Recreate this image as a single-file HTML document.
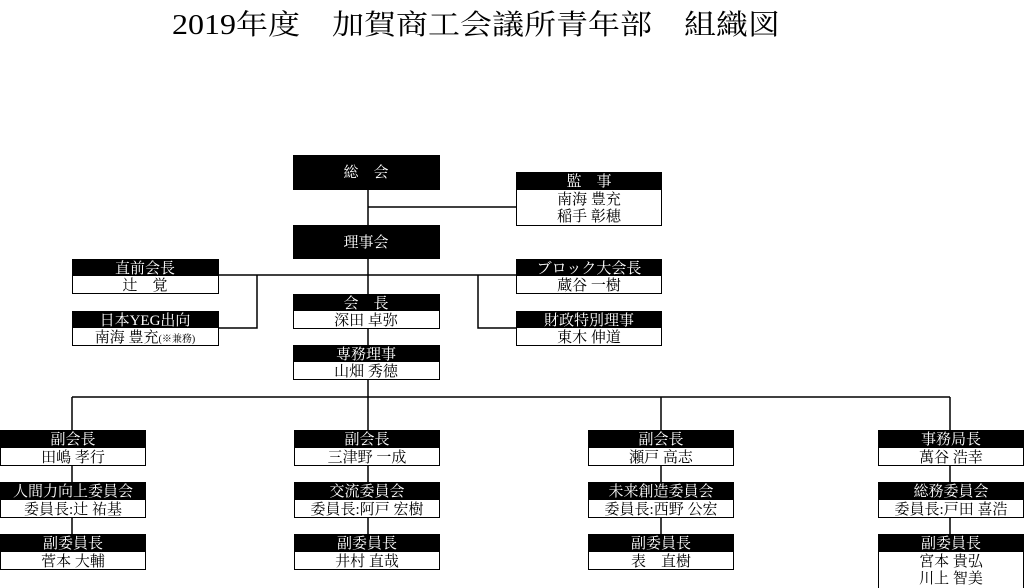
<!DOCTYPE html>
<html><head><meta charset="utf-8"><style>
html,body{margin:0;padding:0;background:#fff;}
svg{display:block;}
text{font-family:"Liberation Serif","Noto Serif CJK SC","Noto Sans CJK JP",serif;}
</style></head><body>
<svg width="1024" height="588" viewBox="0 0 1024 588" xmlns="http://www.w3.org/2000/svg">
<text x="172" y="34" font-size="28" textLength="608" lengthAdjust="spacingAndGlyphs" fill="#000" style="white-space:pre">2019年度&#x2002;&#x2002;加賀商工会議所青年部&#x2002;&#x2002;組織図</text>
<g stroke="#000" stroke-width="1.5" fill="none">
<line x1="368" y1="190" x2="368" y2="397"/>
<line x1="368" y1="207" x2="516" y2="207"/>
<line x1="219" y1="275" x2="516" y2="275"/>
<polyline points="257,275 257,328 219,328"/>
<polyline points="478,275 478,328 516,328"/>
<line x1="72" y1="397" x2="950" y2="397"/>
<line x1="72" y1="397" x2="72" y2="534"/>
<line x1="368" y1="397" x2="368" y2="534"/>
<line x1="661" y1="397" x2="661" y2="534"/>
<line x1="950" y1="397" x2="950" y2="534"/>
</g>
<g fill="#000">
<rect x="293" y="155" width="147" height="35"/>
<rect x="293" y="225" width="147" height="34"/>
</g>
<g fill="#fff" font-size="15" text-anchor="middle">
<text x="366" y="177">総　会</text>
<text x="366" y="247">理事会</text>
</g>
<g font-size="15" text-anchor="middle">
<g>
<rect x="516.5" y="172.5" width="145" height="53" fill="#fff" stroke="#000"/><rect x="516" y="172" width="146" height="18" fill="#000"/>
<text x="589" y="186" fill="#fff">監　事</text><text x="589" y="204">南海 豊充</text><text x="589" y="221">稲手 彰穂</text>
</g>
<g>
<rect x="72.5" y="259.5" width="146" height="34" fill="#fff" stroke="#000"/><rect x="72" y="259" width="147" height="17" fill="#000"/>
<text x="145" y="273" fill="#fff">直前会長</text><text x="145" y="290">辻　覚</text>
</g>
<g>
<rect x="516.5" y="259.5" width="145" height="34" fill="#fff" stroke="#000"/><rect x="516" y="259" width="146" height="17" fill="#000"/>
<text x="589" y="273" fill="#fff">ブロック大会長</text><text x="589" y="290">蔵谷 一樹</text>
</g>
<g>
<rect x="72.5" y="311.5" width="146" height="34" fill="#fff" stroke="#000"/><rect x="72" y="311" width="147" height="17" fill="#000"/>
<text x="145" y="325" fill="#fff">日本YEG出向</text><text x="145" y="342">南海 豊充<tspan font-size="10">(※兼務)</tspan></text>
</g>
<g>
<rect x="516.5" y="311.5" width="145" height="34" fill="#fff" stroke="#000"/><rect x="516" y="311" width="146" height="17" fill="#000"/>
<text x="589" y="325" fill="#fff">財政特別理事</text><text x="589" y="342">東木 伸道</text>
</g>
<g>
<rect x="293.5" y="294.5" width="146" height="34" fill="#fff" stroke="#000"/><rect x="293" y="294" width="147" height="17" fill="#000"/>
<text x="366" y="308" fill="#fff">会　長</text><text x="366" y="325">深田 卓弥</text>
</g>
<g>
<rect x="293.5" y="345.5" width="146" height="34" fill="#fff" stroke="#000"/><rect x="293" y="345" width="147" height="17" fill="#000"/>
<text x="366" y="359" fill="#fff">専務理事</text><text x="366" y="376">山畑 秀徳</text>
</g>
</g>
<g font-size="15" text-anchor="middle">
<g transform="translate(0,0)">
<rect x="0.5" y="430.5" width="145" height="35" fill="#fff" stroke="#000"/><rect x="0" y="430" width="146" height="18" fill="#000"/>
<text x="73" y="444" fill="#fff">副会長</text><text x="73" y="462">田嶋 孝行</text>
<rect x="0.5" y="482.5" width="145" height="35" fill="#fff" stroke="#000"/><rect x="0" y="482" width="146" height="18" fill="#000"/>
<text x="73" y="496" fill="#fff">人間力向上委員会</text><text x="73" y="514">委員長:辻 祐基</text>
<rect x="0.5" y="534.5" width="145" height="35" fill="#fff" stroke="#000"/><rect x="0" y="534" width="146" height="18" fill="#000"/>
<text x="73" y="548" fill="#fff">副委員長</text><text x="73" y="566">菅本 大輔</text>
</g>
<g transform="translate(294,0)">
<rect x="0.5" y="430.5" width="145" height="35" fill="#fff" stroke="#000"/><rect x="0" y="430" width="146" height="18" fill="#000"/>
<text x="73" y="444" fill="#fff">副会長</text><text x="73" y="462">三津野 一成</text>
<rect x="0.5" y="482.5" width="145" height="35" fill="#fff" stroke="#000"/><rect x="0" y="482" width="146" height="18" fill="#000"/>
<text x="73" y="496" fill="#fff">交流委員会</text><text x="73" y="514">委員長:阿戸 宏樹</text>
<rect x="0.5" y="534.5" width="145" height="35" fill="#fff" stroke="#000"/><rect x="0" y="534" width="146" height="18" fill="#000"/>
<text x="73" y="548" fill="#fff">副委員長</text><text x="73" y="566">井村 直哉</text>
</g>
<g transform="translate(588,0)">
<rect x="0.5" y="430.5" width="145" height="35" fill="#fff" stroke="#000"/><rect x="0" y="430" width="146" height="18" fill="#000"/>
<text x="73" y="444" fill="#fff">副会長</text><text x="73" y="462">瀬戸 高志</text>
<rect x="0.5" y="482.5" width="145" height="35" fill="#fff" stroke="#000"/><rect x="0" y="482" width="146" height="18" fill="#000"/>
<text x="73" y="496" fill="#fff">未来創造委員会</text><text x="73" y="514">委員長:西野 公宏</text>
<rect x="0.5" y="534.5" width="145" height="35" fill="#fff" stroke="#000"/><rect x="0" y="534" width="146" height="18" fill="#000"/>
<text x="73" y="548" fill="#fff">副委員長</text><text x="73" y="566">表　直樹</text>
</g>
<g transform="translate(878,0)">
<rect x="0.5" y="430.5" width="145" height="35" fill="#fff" stroke="#000"/><rect x="0" y="430" width="146" height="18" fill="#000"/>
<text x="73" y="444" fill="#fff">事務局長</text><text x="73" y="462">萬谷 浩幸</text>
<rect x="0.5" y="482.5" width="145" height="35" fill="#fff" stroke="#000"/><rect x="0" y="482" width="146" height="18" fill="#000"/>
<text x="73" y="496" fill="#fff">総務委員会</text><text x="73" y="514">委員長:戸田 喜浩</text>
<rect x="0.5" y="534.5" width="145" height="55" fill="#fff" stroke="#000"/><rect x="0" y="534" width="146" height="18" fill="#000"/>
<text x="73" y="548" fill="#fff">副委員長</text><text x="73" y="566">宮本 貴弘</text><text x="73" y="583">川上 智美</text>
</g>
</g>
</svg>
</body></html>
